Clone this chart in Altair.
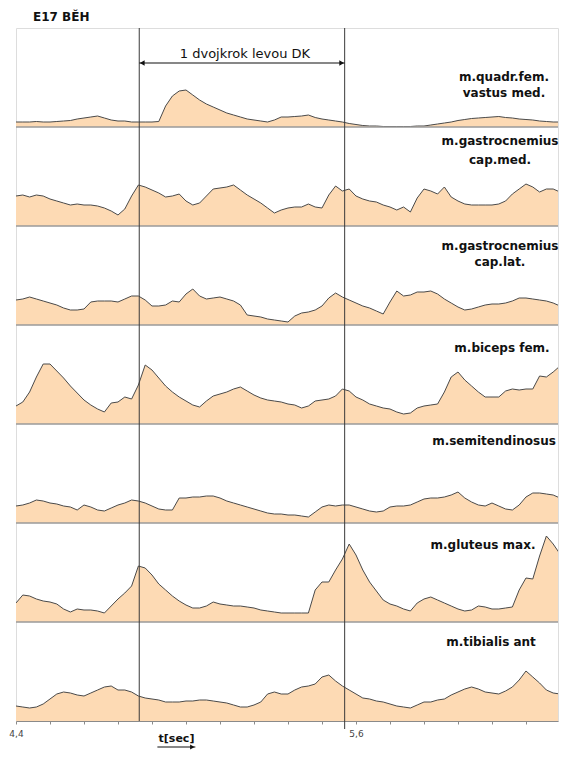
import altair as alt
import pandas as pd

# ---------------- data ----------------
TITLE = "E17 BĚH"
STRIDE_LABEL = "1 dvojkrok levou DK"
X_TITLE = "t[sec]"

# sampling grid of the EMG envelopes (seconds)
TIME = [round(4.4 + 0.024 * k, 3) for k in range(82)]

# tick marks of the time axis and their labels
TICK_VALUES = [4.4, 4.52, 4.64, 4.76, 4.88, 5.0, 5.12, 5.24, 5.36, 5.48,
               5.6, 5.72, 5.84, 5.96, 6.08, 6.2]
TICK_LABELS = ["4,4", "", "", "", "", "", "", "", "", "",
               "5,6", "", "", "", "", ""]

# the two vertical markers bounding one stride (s)
STRIDE = [4.835, 5.560]
STRIDE_ARROW_LEVEL = 64
# little arrow under the axis title (s)
TIME_ARROW = [4.899, 5.033]

MUSCLES = [
    ["m.quadr.fem.", "vastus med."],
    ["m.gastrocnemius", "cap.med."],
    ["m.gastrocnemius", "cap.lat."],
    ["m.biceps fem."],
    ["m.semitendinosus"],
    ["m.gluteus max."],
    ["m.tibialis ant"],
]

quadr = [5, 5, 5, 5.5, 5, 5, 5.5, 6, 6.5, 8, 9, 10, 11, 9, 7, 6, 6, 5, 5, 5,
         5, 5.5, 21, 31, 36, 37, 32, 27, 23, 20, 17, 14, 12, 10, 8, 7, 6, 5, 7, 10,
         10, 10.5, 11, 12, 9.5, 8, 7, 6, 5, 3.5, 2.5, 1.5, 1, 1, 0.5, 0.5, 0.5, 0.5, 0.5, 1,
         1, 2, 3, 4, 5, 6.5, 7.5, 8.5, 9, 9.5, 10, 10.5, 9.5, 9, 8, 7.5, 7, 6, 5.5, 5,
         5, 20]
gastro_med = [30, 31, 29, 31, 30, 27, 25, 23, 21, 22, 21, 21, 20, 18, 15, 11, 17, 30, 41, 39,
              36, 33, 29, 30, 32, 25, 21, 23, 30, 37, 38, 39, 41, 36, 31, 27, 23, 18, 13, 16,
              18, 19, 19, 22, 19, 18, 31, 40, 35, 37, 30, 27, 25, 24, 21, 19, 16, 19, 14, 28,
              37, 35, 32, 39, 29, 25, 22, 21, 21, 21, 21, 22, 25, 32, 37, 42, 39, 34, 37, 37,
              34, 32]
gastro_lat = [25, 26, 28, 26, 24, 22, 20, 17, 15, 15, 16, 23, 24, 24, 24, 23, 26, 29, 29, 25,
              19, 19, 20, 24, 23, 31, 36, 29, 26, 27, 28, 26, 24, 20, 10, 9, 8, 6, 5, 4,
              3, 9, 12, 13, 15, 19, 27, 32, 28, 25, 22, 19, 17, 14, 11, 23, 34, 29, 30, 33,
              33, 34, 31, 26, 22, 18, 15, 16, 18, 20, 21, 21, 22, 24, 27, 27, 26, 25, 24, 22,
              19, 17]
biceps = [18, 22, 32, 47, 60, 60, 53, 46, 38, 31, 24, 19, 15, 12, 21, 22, 27, 25, 39, 59,
          54, 46, 38, 32, 27, 23, 19, 17, 23, 28, 30, 32, 35, 37, 33, 29, 26, 24, 23, 22,
          20, 19, 16, 18, 23, 24, 25, 28, 35, 33, 27, 24, 20, 18, 16, 15, 12, 10, 11, 16,
          18, 19, 20, 32, 47, 52, 44, 38, 32, 27, 27, 27, 33, 35, 34, 35, 35, 48, 47, 52,
          58, 62]
semitend = [17, 18, 20, 23, 22, 20, 19, 17, 16, 13, 18, 16, 13, 12, 15, 18, 20, 23, 22, 20,
            17, 14, 13, 13, 25, 25, 26, 26, 27, 27, 25, 22, 20, 18, 16, 14, 12, 10, 9, 9,
            8, 8, 7, 6, 11, 16, 18, 17, 18, 18, 16, 14, 12, 11, 12, 16, 17, 17, 18, 21,
            24, 25, 25, 26, 28, 31, 25, 21, 18, 17, 20, 17, 14, 13, 18, 26, 30, 30, 29, 28,
            25, 23]
gluteus = [19, 27, 26, 23, 21, 20, 18, 13, 10, 13, 12, 12, 11, 9, 16, 23, 29, 36, 56, 54,
           47, 38, 32, 26, 21, 17, 14, 14, 16, 20, 18, 17, 16, 16, 15, 14, 12, 11, 10, 9,
           9, 9, 9, 9, 32, 40, 40, 52, 63, 78, 67, 52, 40, 31, 22, 18, 16, 13, 11, 19,
           23, 25, 22, 19, 16, 13, 11, 12, 16, 15, 13, 13, 14, 15, 32, 44, 43, 66, 86, 78,
           68, 60]
tibialis = [15, 14, 13, 14, 17, 22, 27, 29, 28, 26, 25, 28, 31, 34, 35, 31, 31, 29, 25, 23,
            22, 21, 19, 19, 19, 20, 20, 21, 21, 20, 19, 18, 16, 14, 14, 16, 19, 27, 29, 27,
            27, 31, 34, 35, 37, 44, 46, 40, 35, 31, 27, 23, 22, 20, 19, 17, 15, 14, 13, 16,
            19, 19, 21, 22, 26, 29, 32, 34, 32, 29, 28, 27, 30, 34, 41, 50, 44, 38, 31, 28,
            27, 26]

SERIES = [quadr, gastro_med, gastro_lat, biceps, semitend, gluteus, tibialis]

# ---------------- style / layout ----------------
FILL = "#FDDAB4"
LINE = "#4a4a4a"
MARKER = "#3a3a3a"
BORDER = "#9a9a9a"
TEXT = "#111111"
FONT = "DejaVu Sans"
PH = 99                      # height of one panel in value units
NP = len(SERIES)
# label placement inside each panel (x centre, y of each line, px from panel top)
LABEL_X = [488, 484, 484, 486, 478, 467, 475]
LABEL_Y = [[49, 65], [14, 33], [20, 36], [23], [17], [22], [20]]

xscale = alt.Scale(domain=[4.4, 6.313], nice=False, zero=False)
yscale = alt.Scale(domain=[0, PH * NP], nice=False, zero=True)

label_expr = ""
for v, lab in zip(TICK_VALUES, TICK_LABELS):
    if lab:
        label_expr += f"abs(datum.value - {v}) < 0.001 ? '{lab}' : "
label_expr += "''"

x_axis = alt.Axis(
    values=TICK_VALUES, labelExpr=label_expr, grid=False,
    tickSize=3, tickColor="#8a8a8a", domainColor="#8a8a8a", domainWidth=1,
    labelFont=FONT, labelFontSize=9, labelColor="#444", labelPadding=5,
    labelFlush=False, labelOverlap=False,
    title=X_TITLE, titleFont=FONT, titleFontSize=11, titleFontWeight="bold",
    titleColor=TEXT, titleX=160, titleY=20, titleAlign="center",
    titleBaseline="alphabetic",
)
X = alt.X("t:Q", scale=xscale, axis=x_axis)

rows = {"t": [], "v": [], "p": []}
for p, s in enumerate(SERIES):
    rows["t"] += TIME
    rows["v"] += s
    rows["p"] += [p] * len(s)
emg = pd.DataFrame(rows)

base = alt.Chart(emg).transform_calculate(
    y=f"datum.v + ({NP - 1} - datum.p) * {PH}",
    base=f"({NP - 1} - datum.p) * {PH}",
)
Y = alt.Y("y:Q", scale=yscale, axis=None)

layers = [
    base.mark_area(color=FILL, opacity=1, clip=True).encode(x=X, y=Y, y2="base:Q", detail="p:N"),
    base.mark_line(color=LINE, strokeWidth=1, clip=True).encode(x=X, y=Y, detail="p:N"),
]

# panel separators
sep = pd.DataFrame({"y": [PH * k for k in range(1, NP)]})
layers.append(alt.Chart(sep).mark_rule(color=BORDER, strokeWidth=1.3).encode(y=Y))

# stride markers
layers.append(alt.Chart(pd.DataFrame({"t": STRIDE[:1]})).mark_rule(color=MARKER, strokeWidth=1)
              .encode(x=X))
layers.append(alt.Chart(pd.DataFrame({"t": STRIDE[1:]})).mark_rule(color=MARKER, strokeWidth=1)
              .encode(x=X, y=alt.value(0), y2=alt.value({"expr": "height + 8"})))

# stride arrow in the top panel
arr_y = PH * (NP - 1) + STRIDE_ARROW_LEVEL
adf = pd.DataFrame({"t": [STRIDE[0]], "t2": [STRIDE[1]], "y": [arr_y]})
layers.append(alt.Chart(adf).mark_rule(color="#111", strokeWidth=1.2)
              .encode(x=X, x2="t2:Q", y=Y))
for t, shape, off in [(STRIDE[0], "triangle-left", 3), (STRIDE[1], "triangle-right", -3)]:
    layers.append(alt.Chart(pd.DataFrame({"t": [t], "y": [arr_y]}))
                  .mark_point(shape=shape, filled=True, size=30, color="#111",
                              opacity=1, xOffset=off)
                  .encode(x=X, y=Y))
tdf = pd.DataFrame({"t": [(STRIDE[0] + STRIDE[1]) / 2], "y": [arr_y], "txt": [STRIDE_LABEL]})
layers.append(alt.Chart(tdf).mark_text(font=FONT, fontSize=13, color=TEXT,
                                       baseline="bottom", dy=-2, dx=3)
              .encode(x=X, y=Y, text="txt:N"))

# time arrow under the axis title
bdf = pd.DataFrame({"t": [TIME_ARROW[0]], "t2": [TIME_ARROW[1]]})
layers.append(alt.Chart(bdf).mark_rule(color="#111", strokeWidth=1.2)
              .encode(x=X, x2="t2:Q", y=alt.value({"expr": "height + 26"})))
layers.append(alt.Chart(pd.DataFrame({"t": TIME_ARROW[1:]}))
              .mark_point(shape="triangle-right", filled=True, size=26, color="#111",
                          opacity=1, xOffset=-3)
              .encode(x=X, y=alt.value({"expr": "height + 26"})))

# muscle labels
for i, lines in enumerate(MUSCLES):
    for line_text, ly in zip(lines, LABEL_Y[i]):
        layers.append(alt.Chart(pd.DataFrame({"txt": [line_text]}))
                      .mark_text(font=FONT, fontSize=12, fontWeight="bold", color=TEXT,
                                 align="center", baseline="middle")
                      .encode(x=alt.value(LABEL_X[i]),
                              y=alt.value({"expr": f"height * {i} / {NP} + {ly}"}),
                              text="txt:N"))

chart = alt.layer(*layers).properties(
    width=551, height=742,
    autosize=alt.AutoSizeParams(type="fit", contains="padding"),
    padding={"left": 0, "top": 2, "right": 0, "bottom": 0},
    title=alt.TitleParams(TITLE, anchor="start", frame="group", font=FONT, fontSize=12,
                          fontWeight="bold", color=TEXT, dx=17, offset=4),
).configure_view(stroke=BORDER, strokeWidth=1).configure(background="white")

chart.save("out.html", embed_options={"renderer": "svg", "actions": False})
